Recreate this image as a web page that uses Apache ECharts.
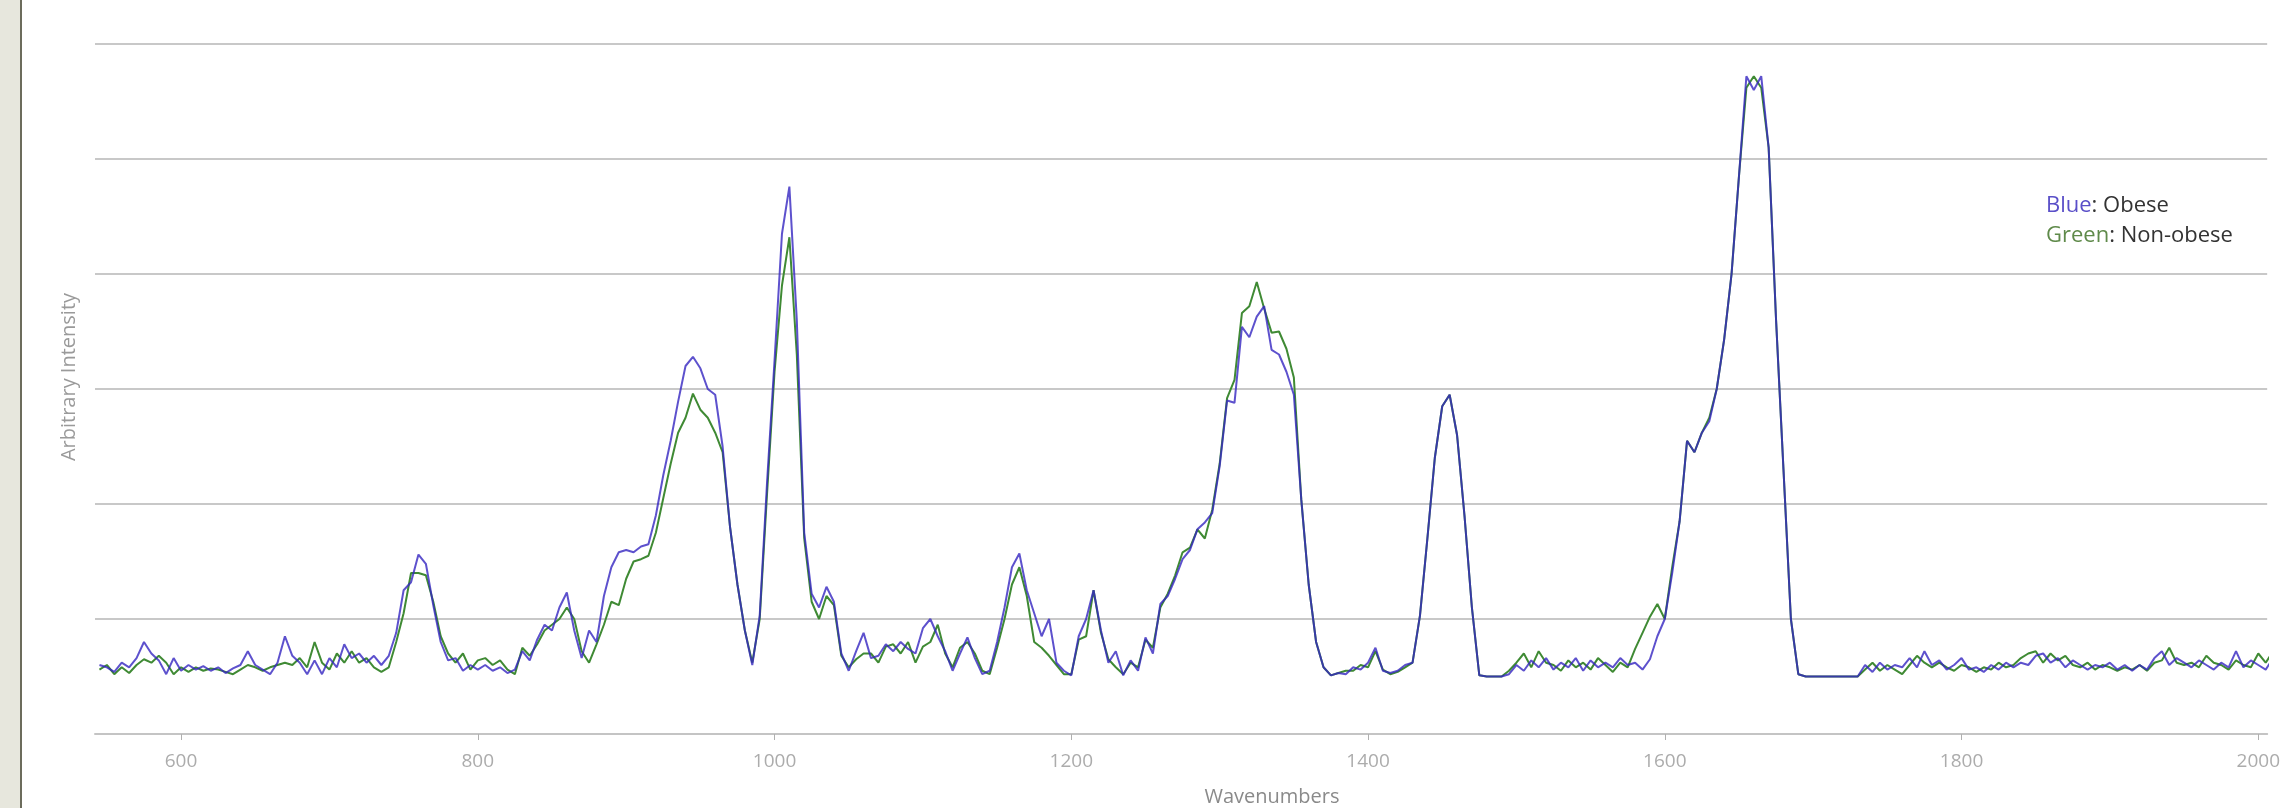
<!DOCTYPE html>
<html>
<head>
<meta charset="utf-8">
<title>Raman spectra</title>
<script src="https://cdn.jsdelivr.net/npm/echarts@6/dist/echarts.min.js"></script>
<style>
  html, body { margin: 0; padding: 0; background: #fff; }
  #chart { width: 2283px; height: 808px; }
</style>
</head>
<body>
<div id="chart"></div>
<script>
// wavenumbers (cm-1), every 5 units
const wavenumbers = [
  545,
  550, 555, 560, 565, 570, 575, 580, 585, 590, 595,
  600, 605, 610, 615, 620, 625, 630, 635, 640, 645,
  650, 655, 660, 665, 670, 675, 680, 685, 690, 695,
  700, 705, 710, 715, 720, 725, 730, 735, 740, 745,
  750, 755, 760, 765, 770, 775, 780, 785, 790, 795,
  800, 805, 810, 815, 820, 825, 830, 835, 840, 845,
  850, 855, 860, 865, 870, 875, 880, 885, 890, 895,
  900, 905, 910, 915, 920, 925, 930, 935, 940, 945,
  950, 955, 960, 965, 970, 975, 980, 985, 990, 995,
  1000, 1005, 1010, 1015, 1020, 1025, 1030, 1035, 1040, 1045,
  1050, 1055, 1060, 1065, 1070, 1075, 1080, 1085, 1090, 1095,
  1100, 1105, 1110, 1115, 1120, 1125, 1130, 1135, 1140, 1145,
  1150, 1155, 1160, 1165, 1170, 1175, 1180, 1185, 1190, 1195,
  1200, 1205, 1210, 1215, 1220, 1225, 1230, 1235, 1240, 1245,
  1250, 1255, 1260, 1265, 1270, 1275, 1280, 1285, 1290, 1295,
  1300, 1305, 1310, 1315, 1320, 1325, 1330, 1335, 1340, 1345,
  1350, 1355, 1360, 1365, 1370, 1375, 1380, 1385, 1390, 1395,
  1400, 1405, 1410, 1415, 1420, 1425, 1430, 1435, 1440, 1445,
  1450, 1455, 1460, 1465, 1470, 1475, 1480, 1485, 1490, 1495,
  1500, 1505, 1510, 1515, 1520, 1525, 1530, 1535, 1540, 1545,
  1550, 1555, 1560, 1565, 1570, 1575, 1580, 1585, 1590, 1595,
  1600, 1605, 1610, 1615, 1620, 1625, 1630, 1635, 1640, 1645,
  1650, 1655, 1660, 1665, 1670, 1675, 1680, 1685, 1690, 1695,
  1700, 1705, 1710, 1715, 1720, 1725, 1730, 1735, 1740, 1745,
  1750, 1755, 1760, 1765, 1770, 1775, 1780, 1785, 1790, 1795,
  1800, 1805, 1810, 1815, 1820, 1825, 1830, 1835, 1840, 1845,
  1850, 1855, 1860, 1865, 1870, 1875, 1880, 1885, 1890, 1895,
  1900, 1905, 1910, 1915, 1920, 1925, 1930, 1935, 1940, 1945,
  1950, 1955, 1960, 1965, 1970, 1975, 1980, 1985, 1990, 1995,
  2000, 2005, 2010
]

// Blue: Obese
const obese = [
  0.60,
  0.58, 0.54, 0.62, 0.58, 0.66, 0.80, 0.70, 0.64, 0.52, 0.66,
  0.55, 0.60, 0.56, 0.59, 0.55, 0.58, 0.53, 0.57, 0.60, 0.72,
  0.60, 0.56, 0.52, 0.62, 0.85, 0.68, 0.62, 0.52, 0.64, 0.52,
  0.66, 0.58, 0.78, 0.66, 0.70, 0.62, 0.68, 0.60, 0.68, 0.88,
  1.25, 1.32, 1.56, 1.48, 1.12, 0.80, 0.64, 0.66, 0.55, 0.60,
  0.56, 0.60, 0.55, 0.58, 0.53, 0.56, 0.72, 0.64, 0.82, 0.95,
  0.90, 1.10, 1.23, 0.90, 0.66, 0.90, 0.80, 1.20, 1.45, 1.58,
  1.60, 1.58, 1.63, 1.65, 1.90, 2.25, 2.55, 2.89, 3.20, 3.28,
  3.18, 3.00, 2.95, 2.50, 1.80, 1.30, 0.90, 0.60, 1.03, 2.20,
  3.25, 4.35, 4.76, 3.60, 1.75, 1.22, 1.10, 1.28, 1.15, 0.70,
  0.55, 0.72, 0.88, 0.66, 0.68, 0.78, 0.72, 0.80, 0.74, 0.70,
  0.92, 1.00, 0.85, 0.72, 0.55, 0.70, 0.84, 0.66, 0.52, 0.55,
  0.80, 1.10, 1.45, 1.57, 1.25, 1.05, 0.85, 1.00, 0.62, 0.55,
  0.51, 0.85, 1.00, 1.25, 0.90, 0.62, 0.72, 0.51, 0.64, 0.55,
  0.84, 0.70, 1.13, 1.20, 1.35, 1.52, 1.60, 1.78, 1.84, 1.92,
  2.33, 2.90, 2.88, 3.54, 3.45, 3.63, 3.72, 3.34, 3.30, 3.15,
  2.95, 2.04, 1.30, 0.80, 0.58, 0.51, 0.53, 0.52, 0.58, 0.56,
  0.62, 0.75, 0.55, 0.53, 0.55, 0.60, 0.62, 1.03, 1.70, 2.40,
  2.85, 2.95, 2.60, 1.90, 1.10, 0.51, 0.50, 0.50, 0.50, 0.52,
  0.60, 0.55, 0.64, 0.58, 0.66, 0.56, 0.62, 0.58, 0.66, 0.55,
  0.64, 0.58, 0.62, 0.58, 0.66, 0.60, 0.62, 0.56, 0.65, 0.85,
  1.00, 1.40, 1.85, 2.55, 2.45, 2.62, 2.72, 3.00, 3.43, 4.00,
  4.85, 5.72, 5.60, 5.72, 5.10, 3.60, 2.30, 1.00, 0.52, 0.50,
  0.50, 0.50, 0.50, 0.50, 0.50, 0.50, 0.50, 0.60, 0.54, 0.62,
  0.56, 0.60, 0.58, 0.66, 0.58, 0.72, 0.60, 0.64, 0.56, 0.60,
  0.66, 0.56, 0.58, 0.54, 0.60, 0.56, 0.62, 0.58, 0.62, 0.60,
  0.68, 0.70, 0.62, 0.66, 0.58, 0.64, 0.60, 0.56, 0.60, 0.58,
  0.62, 0.56, 0.60, 0.55, 0.60, 0.56, 0.66, 0.72, 0.60, 0.66,
  0.62, 0.58, 0.64, 0.60, 0.56, 0.62, 0.58, 0.72, 0.58, 0.64,
  0.60, 0.56, 0.66
]

// Green: Non-obese
const nonObese = [
  0.56,
  0.60, 0.52, 0.58, 0.53, 0.60, 0.65, 0.62, 0.68, 0.62, 0.52,
  0.58, 0.54, 0.58, 0.55, 0.57, 0.56, 0.54, 0.52, 0.56, 0.60,
  0.58, 0.55, 0.58, 0.60, 0.62, 0.60, 0.66, 0.58, 0.80, 0.62,
  0.56, 0.70, 0.62, 0.72, 0.62, 0.66, 0.58, 0.54, 0.58, 0.80,
  1.05, 1.40, 1.40, 1.38, 1.15, 0.85, 0.70, 0.62, 0.70, 0.56,
  0.64, 0.66, 0.60, 0.64, 0.56, 0.52, 0.75, 0.68, 0.78, 0.90,
  0.95, 1.00, 1.10, 1.00, 0.72, 0.62, 0.78, 0.95, 1.15, 1.12,
  1.35, 1.50, 1.52, 1.55, 1.75, 2.05, 2.35, 2.62, 2.75, 2.96,
  2.82, 2.75, 2.62, 2.45, 1.80, 1.30, 0.90, 0.62, 1.00, 2.10,
  3.15, 3.90, 4.32, 3.30, 1.70, 1.15, 1.00, 1.20, 1.12, 0.68,
  0.58, 0.65, 0.70, 0.70, 0.62, 0.76, 0.78, 0.70, 0.80, 0.62,
  0.76, 0.80, 0.95, 0.70, 0.58, 0.75, 0.80, 0.70, 0.55, 0.52,
  0.75, 1.00, 1.30, 1.45, 1.20, 0.80, 0.75, 0.68, 0.60, 0.52,
  0.52, 0.82, 0.85, 1.25, 0.88, 0.65, 0.58, 0.52, 0.62, 0.58,
  0.82, 0.75, 1.10, 1.22, 1.38, 1.58, 1.62, 1.78, 1.70, 1.95,
  2.35, 2.92, 3.08, 3.66, 3.72, 3.93, 3.70, 3.49, 3.50, 3.35,
  3.10, 2.04, 1.30, 0.80, 0.58, 0.51, 0.53, 0.55, 0.55, 0.60,
  0.58, 0.72, 0.56, 0.52, 0.54, 0.58, 0.62, 1.03, 1.70, 2.40,
  2.85, 2.95, 2.60, 1.90, 1.10, 0.51, 0.50, 0.50, 0.50, 0.55,
  0.62, 0.70, 0.58, 0.72, 0.62, 0.60, 0.55, 0.64, 0.58, 0.62,
  0.56, 0.66, 0.60, 0.54, 0.62, 0.58, 0.74, 0.88, 1.02, 1.13,
  1.00, 1.45, 1.85, 2.55, 2.45, 2.62, 2.75, 3.00, 3.43, 4.00,
  4.85, 5.62, 5.72, 5.62, 5.10, 3.60, 2.30, 1.00, 0.52, 0.50,
  0.50, 0.50, 0.50, 0.50, 0.50, 0.50, 0.50, 0.56, 0.62, 0.55,
  0.60, 0.56, 0.52, 0.60, 0.68, 0.62, 0.58, 0.62, 0.58, 0.55,
  0.60, 0.58, 0.54, 0.58, 0.56, 0.62, 0.58, 0.60, 0.66, 0.70,
  0.72, 0.62, 0.70, 0.64, 0.68, 0.60, 0.58, 0.62, 0.56, 0.60,
  0.58, 0.55, 0.58, 0.56, 0.60, 0.55, 0.62, 0.64, 0.75, 0.62,
  0.60, 0.62, 0.58, 0.68, 0.62, 0.60, 0.56, 0.64, 0.60, 0.58,
  0.70, 0.62, 0.72
]

const xTicks = [600, 800, 1000, 1200, 1400, 1600, 1800, 2000]

const chart = echarts.init(document.getElementById('chart'))
const font = 'Open Sans'

const option = {
  backgroundColor: '#fff',
  animation: false,
  grid: {
    left: 95,
    right: 0,
    top: 44,
    bottom: 74
  },
  xAxis: {
    type: 'value',
    min: 542,
    max: 2006,
    axisLine: { lineStyle: { color: '#c4c4c4', width: 2 } },
    axisTick: {
      customValues: xTicks,
      length: 6,
      lineStyle: { color: '#b0b0b0' }
    },
    axisLabel: {
      customValues: xTicks,
      formatter: function(value) {
        return String(value)
      },
      color: '#acacac',
      fontSize: 19,
      fontFamily: font,
      margin: 18
    },
    splitLine: { show: false }
  },
  yAxis: {
    type: 'value',
    min: 0,
    max: 6,
    interval: 1,
    axisLine: { show: false },
    axisTick: { show: false },
    axisLabel: { show: false },
    splitLine: { lineStyle: { color: '#c8c8c8', width: 2 } }
  },
  graphic: [
    { type: 'rect', shape: { x: 0, y: 0, width: 20, height: 808 }, style: { fill: '#e7e7dd' } },
    { type: 'rect', shape: { x: 20, y: 0, width: 2, height: 808 }, style: { fill: '#6c6c5c' } },
    {
      type: 'text',
      x: 69,
      y: 377,
      rotation: Math.PI / 2,
      style: {
        text: 'Arbitrary Intensity',
        fill: '#9a9a9a',
        fontSize: 20,
        fontFamily: font,
        align: 'center',
        verticalAlign: 'middle'
      }
    },
    {
      type: 'text',
      x: 1272,
      y: 797,
      style: {
        text: 'Wavenumbers',
        fill: '#8a8a8a',
        fontSize: 20,
        fontFamily: font,
        align: 'center',
        verticalAlign: 'middle'
      }
    },
    {
      type: 'text',
      x: 2046,
      y: 191,
      style: {
        text: '{b|Blue}{k|: Obese}\n{g|Green}{k|: Non-obese}',
        fontSize: 22,
        fontFamily: font,
        lineHeight: 30,
        rich: {
          b: { fill: '#5a4fc8', fontSize: 22, fontFamily: font, lineHeight: 30 },
          g: { fill: '#5f8a4a', fontSize: 22, fontFamily: font, lineHeight: 30 },
          k: { fill: '#333333', fontSize: 22, fontFamily: font, lineHeight: 30 }
        }
      }
    }
  ],
  series: [
    {
      name: 'Non-obese',
      type: 'line',
      showSymbol: false,
      data: wavenumbers.map((w, i) => [w, nonObese[i]]),
      lineStyle: { color: '#3f8a34', width: 2 }
    },
    {
      name: 'Obese',
      type: 'line',
      showSymbol: false,
      data: wavenumbers.map((w, i) => [w, obese[i]]),
      lineStyle: { color: '#3526c0', width: 2, opacity: 0.8 }
    }
  ]
}

chart.setOption(option)
window.addEventListener('resize', function() {
  chart.resize()
})
</script>
</body>
</html>
